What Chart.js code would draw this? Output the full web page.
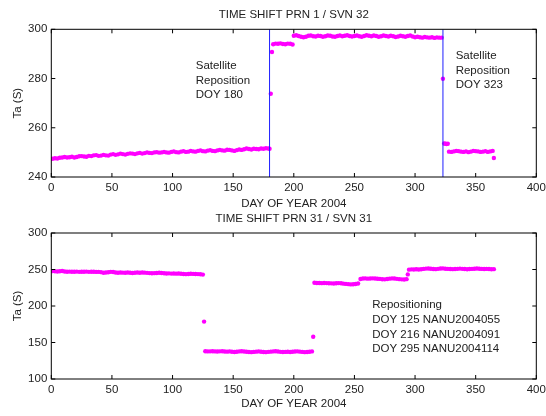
<!DOCTYPE html>
<html>
<head>
<meta charset="utf-8">
<script src="https://cdn.jsdelivr.net/npm/chart.js@4.4.1/dist/chart.umd.min.js"></script>
<style>
html, body { margin: 0; padding: 0; background: #fff; }
#wrap { position: relative; width: 546px; height: 416px; }
#topChart { position: absolute; left: 0; top: 0; }
#bottomChart { position: absolute; left: 0; top: 212px; }
</style>
</head>
<body>
<div id="wrap">
  <canvas id="topChart" width="546" height="212"></canvas>
  <canvas id="bottomChart" width="546" height="204"></canvas>
</div>
<script>
// Data
// ------------------------------

var xTicks = [0, 50, 100, 150, 200, 250, 300, 350, 400];
var topYTicks = [240, 260, 280, 300];
var bottomYTicks = [100, 150, 200, 250, 300];

// PRN 1 / SVN 32
var prn1Days = [
    1, 3, 5, 7, 9, 11, 13, 15, 17, 19, 21, 23, 25, 27, 29, 31, 33, 35, 37, 39,
    41, 43, 45, 47, 49, 51, 53, 55, 57, 59, 61, 63, 65, 67, 69, 71, 73, 75, 77, 79,
    81, 83, 85, 87, 89, 91, 93, 95, 97, 99, 101, 103, 105, 107, 109, 111, 113, 115, 117, 119,
    121, 123, 125, 127, 129, 131, 133, 135, 137, 139, 141, 143, 145, 147, 149, 151, 153, 155, 157, 159,
    161, 163, 165, 167, 169, 171, 173, 175, 177, 179, 180,
    181, 182,
    183, 185, 187, 189, 191, 193, 195, 197, 199,
    200, 202, 204, 206, 208, 210, 212, 214, 216, 218, 220, 222, 224, 226, 228, 230, 232, 234, 236, 238,
    240, 242, 244, 246, 248, 250, 252, 254, 256, 258, 260, 262, 264, 266, 268, 270, 272, 274, 276, 278,
    280, 282, 284, 286, 288, 290, 292, 294, 296, 298, 300, 302, 304, 306, 308, 310, 312, 314, 316, 318,
    320, 322,
    323,
    324, 325, 326, 327,
    328, 330, 332, 334, 336, 338, 340, 342, 344, 346, 348, 350, 352, 354, 356, 358, 360, 362, 364,
    365
];
var prn1Values = [
    247.4, 247.6, 247.5, 247.8, 247.9, 248.1, 247.9, 248.0, 248.2, 247.9, 248.1, 248.4, 248.5, 248.3, 248.2, 248.6, 248.5, 248.8, 248.9, 248.6,
    248.7, 249.0, 248.8, 248.7, 249.1, 249.3, 249.0, 249.2, 249.5, 249.3, 249.1, 249.4, 249.6, 249.5, 249.3, 249.6, 249.8, 249.5, 249.7, 250.0,
    249.8, 249.7, 250.0, 250.1, 249.9, 250.0, 250.2, 250.0, 249.9, 250.2, 250.4, 250.1, 250.0, 250.3, 250.5, 250.2, 250.3, 250.6, 250.4, 250.3,
    250.6, 250.8, 250.5, 250.4, 250.7, 250.9, 250.6, 250.5, 250.8, 251.0, 250.8, 250.7, 251.1, 251.0, 250.8, 250.6, 250.9, 251.2, 251.0, 251.3,
    251.6, 251.4, 251.2, 251.5, 251.4, 251.3, 251.6, 251.5, 251.7, 251.6, 251.5,
    273.8, 290.8,
    293.9, 294.2, 294.1, 294.3, 294.0, 293.9, 294.2, 294.1, 293.8,
    297.4, 297.6, 297.3, 297.0, 296.8, 297.0, 297.4, 297.5, 297.2, 297.1, 297.4, 297.3, 297.0, 297.2, 297.5, 297.4, 297.1, 297.0, 297.3, 297.5,
    297.2, 297.4, 297.6, 297.3, 297.1, 297.3, 297.5, 297.2, 297.0, 297.3, 297.6, 297.4, 297.2, 297.5, 297.3, 297.0, 297.2, 297.5, 297.3, 297.1,
    297.4, 297.2, 296.9, 297.1, 297.4, 297.2, 297.0, 297.3, 297.5, 297.1, 296.8, 297.0, 296.8, 296.6, 296.9, 296.7, 296.6, 296.8, 296.5, 296.7,
    296.6, 296.6,
    279.9,
    253.6, 253.5, 253.4, 253.5,
    250.3, 250.2, 250.4, 250.6, 250.5, 250.3, 250.2, 250.4, 250.1, 250.3, 250.6, 250.5, 250.4, 250.2, 250.3, 250.5, 250.2, 250.4, 250.6,
    247.7
];
var prn1Repositions = [180, 323];

// PRN 31 / SVN 31
var prn31Days = [
    1, 3, 5, 7, 9, 11, 13, 15, 17, 19, 21, 23, 25, 27, 29, 31, 33, 35, 37, 39,
    41, 43, 45, 47, 49, 51, 53, 55, 57, 59, 61, 63, 65, 67, 69, 71, 73, 75, 77, 79,
    81, 83, 85, 87, 89, 91, 93, 95, 97, 99, 101, 103, 105, 107, 109, 111, 113, 115, 117, 119,
    121, 123, 125,
    126,
    127, 129, 131, 133, 135, 137, 139, 141, 143, 145, 147, 149, 151, 153, 155, 157, 159, 161, 163, 165,
    167, 169, 171, 173, 175, 177, 179, 181, 183, 185, 187, 189, 191, 193, 195, 197, 199, 201, 203, 205,
    207, 209, 211, 213, 215,
    216,
    217, 219, 221, 223, 225, 227, 229, 231, 233, 235, 237, 239, 241, 243, 245, 247, 249, 251, 253,
    255, 257, 259, 261, 263, 265, 267, 269, 271, 273, 275, 277, 279, 281, 283, 285, 287, 289, 291, 293,
    294,
    295, 297, 299, 301, 303, 305, 307, 309, 311, 313, 315, 317, 319, 321, 323, 325, 327, 329, 331, 333,
    335, 337, 339, 341, 343, 345, 347, 349, 351, 353, 355, 357, 359, 361, 363, 365
];
var prn31Values = [
    247.8, 247.5, 247.2, 247.6, 247.9, 247.3, 247.0, 247.1, 246.9, 247.0, 247.1, 246.8, 247.0, 246.9, 247.1, 246.8, 246.9, 247.0, 246.7, 246.8,
    246.4, 245.6, 245.9, 246.3, 246.8, 246.5, 245.8, 245.6, 245.9, 245.7, 245.5, 245.8, 245.6, 245.3, 245.5, 245.8, 245.6, 245.9, 245.7, 245.4,
    245.1, 244.8, 245.0, 245.3, 245.6, 245.2, 244.8, 244.5, 244.7, 244.4, 244.6, 244.3, 244.5, 244.2, 243.9, 243.6, 243.9, 244.2, 244.0, 243.8,
    243.7, 243.4, 243.0,
    178.6,
    138.0, 137.8, 137.9, 138.1, 137.8, 137.6, 137.9, 138.0, 137.7, 137.5, 137.8, 137.3, 137.0, 137.4, 137.8, 138.0, 137.6, 137.3, 137.0, 136.8,
    137.1, 137.5, 137.8, 137.4, 137.0, 136.8, 137.2, 137.5, 137.8, 138.0, 137.6, 137.2, 136.9, 137.1, 137.4, 137.0, 137.3, 137.7, 137.9, 137.5,
    137.1, 136.8, 137.0, 137.4, 137.8,
    157.8,
    231.8, 231.5, 231.6, 231.3, 231.5, 231.4, 231.2, 231.0, 230.8, 231.2, 231.4, 231.1, 230.6, 230.3, 229.9, 229.6, 229.8, 230.2, 230.9,
    237.0, 237.6, 237.8, 237.5, 237.7, 237.9, 237.6, 237.4, 237.1, 236.7, 236.5, 236.9, 237.5, 237.8, 237.6, 237.2, 236.8, 236.5, 236.4, 236.8,
    243.3,
    249.8, 250.2, 250.0, 250.3, 250.1, 250.4, 250.8, 251.2, 251.4, 251.0, 250.7, 250.5, 250.9, 251.3, 251.5, 251.1, 250.8, 250.6, 250.5, 250.7,
    250.9, 251.2, 250.9, 250.6, 250.4, 250.6, 250.8, 251.0, 251.3, 251.1, 250.8, 250.6, 250.8, 250.6, 250.4, 250.5
];


// Styles
// ------------------------------

var TEXT = '#222222';
var FAMILY = '"Liberation Sans", Arial, Helvetica, sans-serif';
var FONT = { family: FAMILY, size: 11.5 };
var MAGENTA = '#ff00ff';
var BLUE = '#1f1fff';

function toPoints(days, values) {
    return days.map(function (d, i) { return { x: d, y: values[i] }; });
}

// box round the plot with inward ticks, like matlab
var framePlugin = {
    id: 'frame',
    afterDraw: function (chart) {
        var ctx = chart.ctx, a = chart.chartArea;
        var xs = chart.scales.x, ys = chart.scales.y;
        var len = 4;
        ctx.save();
        ctx.strokeStyle = '#000';
        ctx.lineWidth = 1;
        ctx.strokeRect(a.left, a.top, a.right - a.left, a.bottom - a.top);
        ctx.beginPath();
        xs.ticks.forEach(function (t) {
            var px = xs.getPixelForValue(t.value);
            ctx.moveTo(px, a.bottom); ctx.lineTo(px, a.bottom - len);
            ctx.moveTo(px, a.top); ctx.lineTo(px, a.top + len);
        });
        ys.ticks.forEach(function (t) {
            var py = ys.getPixelForValue(t.value);
            ctx.moveTo(a.left, py); ctx.lineTo(a.left + len, py);
            ctx.moveTo(a.right, py); ctx.lineTo(a.right - len, py);
        });
        ctx.stroke();
        ctx.restore();
    }
};

// text notes placed in data coordinates
var notesPlugin = {
    id: 'notes',
    afterDraw: function (chart, args, opts) {
        var ctx = chart.ctx;
        var xs = chart.scales.x, ys = chart.scales.y;
        ctx.save();
        ctx.fillStyle = TEXT;
        ctx.font = '11.5px ' + FAMILY;
        ctx.textAlign = 'left';
        ctx.textBaseline = 'middle';
        (opts.items || []).forEach(function (n) {
            var px = xs.getPixelForValue(n.x);
            var py = ys.getPixelForValue(n.y);
            n.lines.forEach(function (line, i) {
                ctx.fillText(line, px, py + i * 14.7);
            });
        });
        ctx.restore();
    }
};

function makeChart(id, cfg) {
    return new Chart(document.getElementById(id), {
        type: 'scatter',
        data: { datasets: cfg.datasets },
        options: {
            responsive: false,
            animation: false,
            events: [],
            layout: { padding: { left: 0, right: 9.7, top: 0, bottom: 0 } },
            plugins: {
                legend: { display: false },
                tooltip: { enabled: false },
                title: {
                    display: true,
                    text: cfg.title,
                    fullSize: false,
                    color: TEXT,
                    font: { family: FAMILY, size: 11.5, weight: 'normal' },
                    padding: cfg.titlePad
                },
                notes: { items: cfg.notes }
            },
            scales: {
                x: {
                    type: 'linear',
                    min: xTicks[0],
                    max: xTicks[xTicks.length - 1],
                    afterBuildTicks: function (s) { s.ticks = xTicks.map(function (v) { return { value: v }; }); },
                    afterFit: function (s) { s.height = cfg.xAxisHeight; s.paddingLeft = 0; s.paddingRight = 0; },
                    grid: { display: false, drawTicks: false },
                    border: { display: false },
                    ticks: { color: TEXT, font: FONT, padding: 4, maxRotation: 0, autoSkip: false },
                    title: {
                        display: true,
                        text: 'DAY OF YEAR 2004',
                        color: TEXT,
                        font: FONT,
                        padding: { top: 0, bottom: cfg.xTitlePad }
                    }
                },
                y: {
                    type: 'linear',
                    min: cfg.yTicks[0],
                    max: cfg.yTicks[cfg.yTicks.length - 1],
                    afterBuildTicks: function (s) { s.ticks = cfg.yTicks.map(function (v) { return { value: v }; }); },
                    afterFit: function (s) { s.width = 51.3; s.paddingTop = 0; s.paddingBottom = 0; },
                    grid: { display: false, drawTicks: false },
                    border: { display: false },
                    ticks: { color: TEXT, font: FONT, padding: 4, autoSkip: false },
                    title: {
                        display: true,
                        text: 'Ta (S)',
                        color: TEXT,
                        font: FONT,
                        padding: { top: 10.7, bottom: 0 }
                    }
                }
            }
        },
        plugins: [framePlugin, notesPlugin]
    });
}

var markerStyle = {
    showLine: false,
    pointRadius: 2.2,
    pointHoverRadius: 2.2,
    pointBorderWidth: 0,
    pointBackgroundColor: MAGENTA,
    pointBorderColor: MAGENTA
};

var topSets = [];
prn1Repositions.forEach(function (d) {
    topSets.push({
        data: [{ x: d, y: topYTicks[0] }, { x: d, y: topYTicks[topYTicks.length - 1] }],
        showLine: true,
        borderColor: BLUE,
        borderWidth: 1,
        pointRadius: 0
    });
});
topSets.push(Object.assign({ data: toPoints(prn1Days, prn1Values) }, markerStyle));

makeChart('topChart', {
    title: 'TIME SHIFT PRN 1 / SVN 32',
    titlePad: { top: 8, bottom: 7.5 },
    xAxisHeight: 35,
    xTitlePad: 1.3,
    yTicks: topYTicks,
    datasets: topSets,
    notes: [
        { x: 119.1, y: 285.2, lines: ['Satellite', 'Reposition', 'DOY 180'] },
        { x: 333.5, y: 289.2, lines: ['Satellite', 'Reposition', 'DOY 323'] }
    ]
});

makeChart('bottomChart', {
    title: 'TIME SHIFT PRN 31 / SVN 31',
    titlePad: { top: 0, bottom: 7.2 },
    xAxisHeight: 37,
    xTitlePad: 5.4,
    yTicks: bottomYTicks,
    datasets: [Object.assign({ data: toPoints(prn31Days, prn31Values) }, markerStyle)],
    notes: [
        { x: 264.7, y: 201.3, lines: ['Repositioning', 'DOY 125 NANU2004055', 'DOY 216 NANU2004091', 'DOY 295 NANU2004114'] }
    ]
});
</script>
</body>
</html>
